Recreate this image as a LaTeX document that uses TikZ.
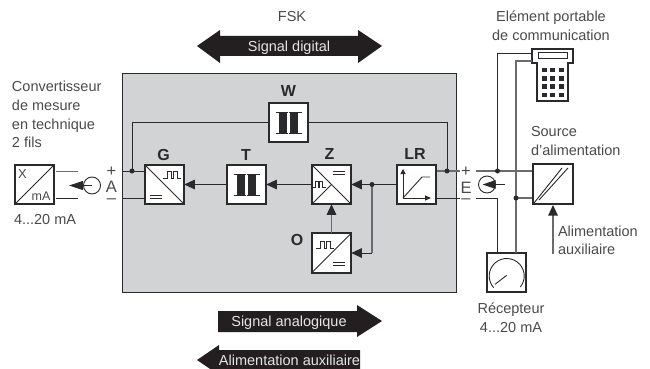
\documentclass[tikz,border=0pt]{standalone}
\usepackage{fontspec}
\setmainfont{Liberation Sans}
\usetikzlibrary{arrows.meta}
\definecolor{txt}{HTML}{4A4A4C}
\definecolor{ink}{HTML}{2A2A2C}
\definecolor{wire}{HTML}{6A6B6E}
\definecolor{panel}{HTML}{D1D3D4}
\definecolor{bigarrow}{HTML}{231F20}
\tikzset{
  lbl/.style={inner sep=0pt,outer sep=0pt,text=txt,font=\fontsize{14.5}{17}\selectfont,anchor=base},
  lbll/.style={lbl,anchor=base west},
  pole/.style={lbl,font=\fontsize{16.5}{17}\selectfont},
  blk/.style={inner sep=0pt,outer sep=0pt,text=ink,font=\bfseries\fontsize{16}{18}\selectfont,anchor=base},
  boxn/.style={draw=ink,line width=1.9pt,fill=white,minimum size=39.5pt,inner sep=0pt,outer sep=0pt},
  wireb/.style={draw=ink,line width=0.9pt},
  wireg/.style={draw=wire,line width=1.2pt},
  arr/.style={-{Triangle[length=10.5pt,width=9.5pt,color=ink,fill=ink]}},
  sym/.style={draw=ink,line width=0.9pt},
  bigtxt/.style={inner sep=0pt,outer sep=0pt,text=white!90!black,font=\fontsize{14.5}{17}\selectfont,anchor=base},
  dot/.style={circle,fill=ink,inner sep=0pt,outer sep=0pt,minimum size=5pt}
}
\newcommand{\xfmrsym}[1]{%
  \fill[ink] ([xshift=-9.5pt,yshift=-10pt]#1.center) rectangle ([xshift=-1.2pt,yshift=10pt]#1.center);
  \fill[ink] ([xshift=1.2pt,yshift=-10pt]#1.center) rectangle ([xshift=9.5pt,yshift=10pt]#1.center);
  \draw[sym,line width=1pt] ([xshift=-13pt,yshift=10.5pt]#1.center) -- ([xshift=-0.6pt,yshift=10.5pt]#1.center);
  \draw[sym,line width=1pt] ([xshift=-13pt,yshift=-10.5pt]#1.center) -- ([xshift=-0.6pt,yshift=-10.5pt]#1.center);
  \draw[sym,line width=1pt] ([xshift=0.6pt,yshift=10.5pt]#1.center) -- ([xshift=13pt,yshift=10.5pt]#1.center);
  \draw[sym,line width=1pt] ([xshift=0.6pt,yshift=-10.5pt]#1.center) -- ([xshift=13pt,yshift=-10.5pt]#1.center);
}
\newcommand{\pulsesym}[2]{%
  \draw[sym,line join=miter] (#1,#2) -- ++(4,0) -- ++(0,-7) -- ++(4,0) -- ++(0,7) -- ++(2,0) -- ++(0,-7) -- ++(4,0) -- ++(0,7) -- ++(4,0);
}
\newcommand{\eqsym}[2]{%
  \draw[sym] (#1,#2) -- ++(12,0);
  \draw[sym] (#1,#2+3.6) -- ++(12,0);
}
\begin{document}
\begin{tikzpicture}[x=1pt,y=-1pt]
\useasboundingbox (0,0) rectangle (650,369);
\clip (0,0) rectangle (650,369);

% panel
\node[draw=ink,line width=1pt,fill=panel,minimum width=334pt,minimum height=219pt,inner sep=0pt,outer sep=0pt] (panel) at (289.5,182.5) {};

% big arrows
\fill[bigarrow] (197,46) -- (220,30) -- (220,36) -- (358,36) -- (358,30) -- (382,46) -- (358,63) -- (358,56) -- (220,56) -- (220,63) -- cycle;
\fill[bigarrow] (218,311) -- (357,311) -- (357,305) -- (382,321) -- (357,337) -- (357,332) -- (218,332) -- cycle;
\fill[bigarrow] (360,350) -- (219,350) -- (219,345) -- (197,360) -- (219,375) -- (219,369) -- (360,369) -- cycle;

% blocks
\node[boxn] (G) at (164.5,184.5) {};
\node[boxn] (T) at (246.5,184.5) {};
\node[boxn] (Z) at (331.5,184.5) {};
\node[boxn] (LR) at (416.5,184.5) {};
\node[boxn] (W) at (288.5,122.5) {};
\node[boxn] (O) at (331.5,253) {};
\node[boxn] (X) at (34.5,184.5) {};
\node[boxn] (S) at (553,184) {};
\node[boxn] (M) at (506.5,272.5) {};

% handheld
\coordinate (HH1) at (532,53);
\coordinate (HH2) at (532,61);
\draw[draw=ink,line width=1.9pt,fill=white] (532,49) -- (573,49) -- (573,63) -- (568,63) -- (568,101) -- (537,101) -- (537,63) -- (532,63) -- cycle;
\draw[draw=ink,line width=1pt,fill=white] (538,52.5) rectangle (567,59);
\foreach \kx in {542,550,558.5}{\foreach \ky in {67.5,76,84,92.5}{\fill[ink] (\kx,\ky) rectangle ++(5,4.5);}}

% junctions and free ends
\coordinate (jGp) at (132,171);
\coordinate (jLRp) at (447,171);
\coordinate (jZ) at (372,184.5);
\coordinate (jHp) at (497.5,171);
\coordinate (jHn) at (516,198);
\coordinate (Gp) at (144,171);
\coordinate (Gn) at (144,198);
\coordinate (panelGp) at (122,171);
\coordinate (panelGn) at (122,198);
\coordinate (LRp) at (437,171);
\coordinate (LRn) at (437,198);
\coordinate (Ep) at (460,171);
\coordinate (En) at (460,198);
\coordinate (Ep2) at (476,171);
\coordinate (En2) at (476,198);
\coordinate (Sp) at (532,171);
\coordinate (Sn) at (532,198);
\coordinate (Xp) at (56,171);
\coordinate (Xn) at (56,198);
\coordinate (Xp2) at (78,171);
\coordinate (Xn2) at (78,198);
\coordinate (mA) at (497.5,198);
\coordinate (auxstart) at (553,254);
\coordinate (Srcb) at (553,205);

% connectors
\draw[wireb] (W.west) -- (132,122.5) -- (jGp);
\draw[wireb] (W.east) -- (447,122.5) -- (jLRp);
\draw[wireb] (panelGp) -- (Gp);
\draw[wireb] (panelGn) -- (Gn);
\draw[wireg] (LRp) -- (Ep);
\draw[wireb] (LRn) -- (En);
\draw[wireb,arr] (T.west) -- (G.east);
\draw[wireb,arr] (Z.west) -- (T.east);
\draw[wireb,arr] (LR.west) -- (Z.east);
\draw[wireg,arr] (O.north) -- (Z.south);
\draw[wireg] (jZ) -- (372,253);
\draw[wireb,arr] (372,253) -- (O.east);
\draw[wireg] (Ep2) -- (Sp);
\draw[wireb] (En2) -- (497.5,198) -- (M.north -| mA);
\draw[wireb] (jHp) -- (497.5,53) -- (HH1);
\draw[wireg] (HH2) -- (516,61) -- (M.north -| jHn);
\draw[wireg] (jHn) -- (Sn);
\draw[wireg,arr] (auxstart) -- (Srcb);
\draw[wire,line width=1pt] (Xp) -- (Xp2);
\draw[wireb] (Xn) -- (Xn2);

% dots
\node[dot] (d1) at (jGp) {};
\node[dot] (d2) at (jLRp) {};
\node[dot] (d3) at (jZ) {};
\node[dot] (d4) at (jHp) {};
\node[dot] (d5) at (jHn) {};

% current sources
\node[circle,draw=ink,line width=0.9pt,minimum size=17pt,inner sep=0pt,outer sep=0pt] (CL) at (92,185.5) {};
\coordinate (CLend) at (69,185.5);
\draw[ink,line width=0.9pt,-{Triangle[length=14pt,width=9pt]}] (CL.center) -- (CLend);
\node[circle,draw=ink,line width=0.9pt,minimum size=17pt,inner sep=0pt,outer sep=0pt] (CR) at (487,184.5) {};
\coordinate (CRs) at (505,184.5);
\coordinate (CRe) at (482.5,184.5);
\draw[ink,line width=0.9pt,-{Triangle[length=13pt,width=8.5pt]}] (CRs) -- (CRe);

% block symbols
\xfmrsym{T}
\xfmrsym{W}
\draw[sym] (G.north west) -- (G.south east);
\pulsesym{163}{178}
\eqsym{150}{195}
\draw[sym] (Z.north west) -- (Z.south east);
\draw[sym] (Z.south west) -- (Z.center);
\draw[sym] (313,187.5) -- ++(2,0) -- ++(0,-6.5) -- ++(3,0) -- ++(0,6.5) -- ++(1.5,0) -- ++(0,-6.5) -- ++(3,0) -- ++(0,6.5) -- ++(3,0);
\eqsym{333}{171}
\draw[sym] (O.south west) -- (O.north east);
\pulsesym{316}{248}
\eqsym{333}{262}
\draw[sym] (X.south west) -- (X.north east);
\draw[sym,-{Triangle[length=5pt,width=5pt]}] (403,198) -- (403,169);
\draw[sym,-{Triangle[length=6pt,width=5pt]}] (403,198) -- (431,198);
\draw[sym] (403,198) -- (422,177) -- (430,177);
\draw[sym] (534,203) -- (562,168);
\draw[sym] (539,200) -- (568,168);
% meter
\draw[sym] (493.7,287.7) arc[start angle=222,end angle=-39,radius=17.5pt];
\draw[sym] (495,284.3) -- (506.7,275.3);

% labels
\node[lbl] (fsk) at (292,22) {FSK};
\node[bigtxt] (sd) at (289,52) {Signal digital};
\node[bigtxt] (sa) at (289,326) {Signal analogique};
\node[bigtxt] (aa) at (289.5,365) {Alimentation auxiliaire};
\node[lbll] (c1) at (12,92) {Convertisseur};
\node[lbll] (c2) at (12,110.5) {de mesure};
\node[lbll] (c3) at (12,129) {en technique};
\node[lbll] (c4) at (12,147.5) {2 fils};
\node[lbll] (c5) at (14,224) {4...20 mA};
\node[lbl] (e1) at (551,22) {Elément portable};
\node[lbl] (e2) at (551,41) {de communication};
\node[lbll] (s1) at (531,136) {Source};
\node[lbll] (s2) at (531,155) {d’alimentation};
\node[lbll] (a1) at (558,236) {Alimentation};
\node[lbll] (a2) at (558,254) {auxiliaire};
\node[lbl] (r1) at (511,313) {Récepteur};
\node[lbl] (r2) at (511,332) {4...20 mA};
\node[pole] (pl) at (111.5,176.5) {+};
\node[pole] (al) at (111.5,192) {A};
\node[pole] (ml) at (111.5,203) {–};
\node[pole] (pr) at (466,176.5) {+};
\node[pole] (er) at (466,193) {E};
\node[pole] (mr) at (466,203) {–};
\node[lbl,font=\fontsize{13}{15}\selectfont] (xl) at (22.5,178) {X};
\node[lbl,font=\fontsize{12.5}{15}\selectfont] (ma) at (41,200) {mA};
\node[blk] (lG) at (163.5,160) {G};
\node[blk] (lT) at (246,160) {T};
\node[blk] (lZ) at (329.5,159) {Z};
\node[blk] (lLR) at (415,159) {LR};
\node[blk] (lW) at (288.5,96) {W};
\node[blk] (lO) at (297,245) {O};
\end{tikzpicture}
\end{document}
